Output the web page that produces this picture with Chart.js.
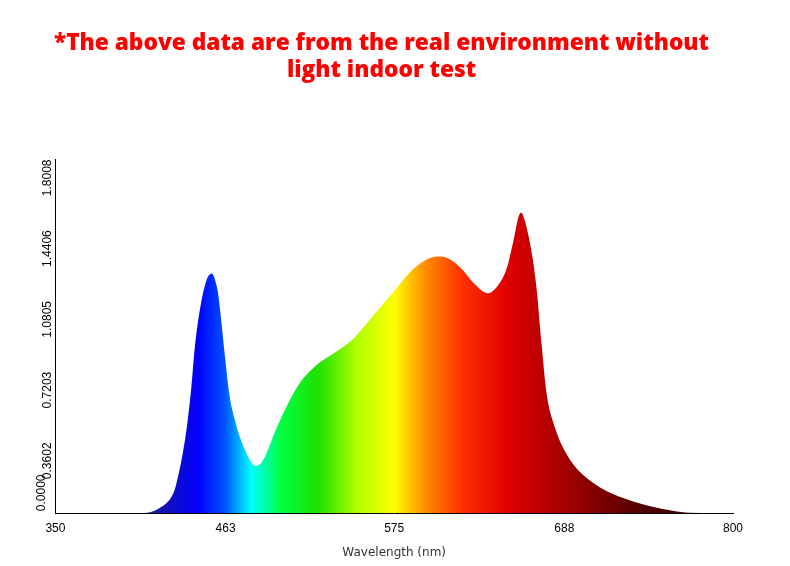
<!DOCTYPE html><html><head><meta charset="utf-8">
<script src="https://cdn.jsdelivr.net/npm/chart.js@4"></script>
<style>html,body{margin:0;background:#fff}#w{width:790px;height:566px}</style></head><body>
<div id="w"><canvas id="c"></canvas></div>
<script>
const wavelengths=[350,405,413,420,426,430,436,440,443,447,451,454,457,459,463,466,469,472,476,480,483,487,491,495,499,506,513,520,526,536,546,556,566,576,586,594,602,610,619,628,637,643,649,654,659,664,669,673,677,682,688,697,712,728,745,760,771,800];
const intensity=[0,0,0.005,0.03,0.07,0.14,0.37,0.62,0.875,1.08,1.2,1.22,1.16,1.06,0.77,0.58,0.48,0.40,0.32,0.26,0.24,0.26,0.32,0.40,0.47,0.58,0.67,0.73,0.77,0.82,0.875,0.96,1.05,1.14,1.23,1.28,1.305,1.30,1.25,1.17,1.12,1.15,1.23,1.38,1.53,1.42,1.18,0.85,0.57,0.43,0.32,0.22,0.13,0.075,0.035,0.012,0.002,0];
const xTicks=[350,463,575,688,800];
const yTicks=[0,0.3602,0.7203,1.0805,1.4406,1.8008];
const stops=[[350,'#10108a'],[413,'#1a1a9a'],[445,'#0000ff'],[462,'#0050ff'],[480,'#00ffff'],[500,'#00ff40'],[525,'#20e000'],[550,'#b0ff00'],[575,'#ffff00'],[595,'#ff9000'],[620,'#ff3000'],[650,'#e00000'],[690,'#a00000'],[740,'#500000'],[800,'#200000']];
const zeroLabel={id:'zl',afterDraw(chart){const c=chart.ctx,y=chart.scales.y,a=chart.chartArea;c.save();c.font='12px "Liberation Sans"';c.fillStyle='#000';c.translate(a.left-14,y.getPixelForValue(0));c.rotate(-Math.PI/2);c.textAlign='left';c.textBaseline='middle';c.fillText('0.0000',2,0);c.restore();}};
new Chart(document.getElementById('c'),{type:'line',plugins:[zeroLabel],
data:{datasets:[{data:wavelengths.map((x,i)=>({x,y:intensity[i]})),fill:'origin',borderWidth:0,pointRadius:0,tension:0.35,
backgroundColor(ctx){const {chart}=ctx;const a=chart.chartArea;if(!a)return'#f00';const xs=chart.scales.x;const g=chart.ctx.createLinearGradient(a.left,0,a.right,0);stops.forEach(([w,c])=>g.addColorStop((xs.getPixelForValue(w)-a.left)/(a.right-a.left),c));return g;}}]},
options:{responsive:true,maintainAspectRatio:false,animation:false,
layout:{padding:{left:30,right:57,top:30,bottom:2}},
plugins:{legend:{display:false},tooltip:{enabled:false},
title:{display:true,text:['*The above data are from the real environment without','light indoor test'],color:'#ff0000',font:{family:'Open Sans',size:22.7,weight:'800',lineHeight:1.2},padding:{top:0,bottom:75}}},
scales:{x:{type:'linear',min:350,max:800,afterBuildTicks(s){s.ticks=xTicks.map(v=>({value:v}))},grid:{display:false,tickLength:5},border:{color:'#000',width:1},ticks:{color:'#000',font:{family:'Liberation Sans',size:12},maxRotation:0},
title:{display:true,text:'Wavelength (nm)',color:'#333',font:{family:'DejaVu Sans',size:12},padding:{top:7}}},
y:{min:0,max:1.8008,afterBuildTicks(s){s.ticks=yTicks.map(v=>({value:v}))},grid:{display:false,tickLength:5},border:{color:'#000',width:1},ticks:{color:'#000',font:{family:'Liberation Sans',size:12},minRotation:90,maxRotation:90,callback:v=>v===0?'':v.toFixed(4)}}}}});
</script></body></html>
